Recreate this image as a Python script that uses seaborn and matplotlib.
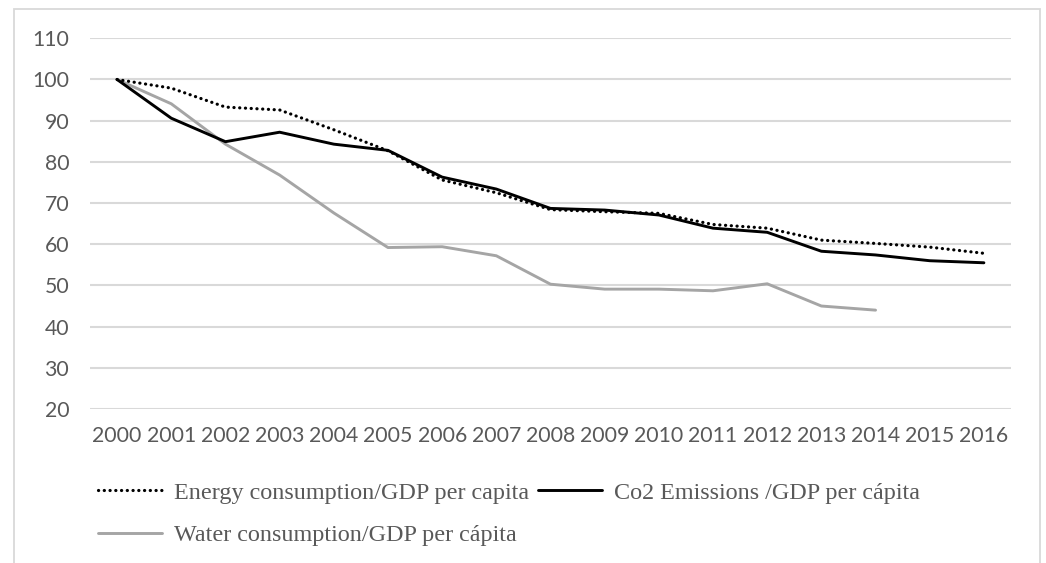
import matplotlib
matplotlib.use("Agg")
import matplotlib.pyplot as plt
from matplotlib.lines import Line2D
from matplotlib.patches import Rectangle
import numpy as np
import pandas as pd
import seaborn as sns

# Index values (2000 = 100)
years = [2000, 2001, 2002, 2003, 2004, 2005, 2006, 2007, 2008,
         2009, 2010, 2011, 2012, 2013, 2014, 2015, 2016]
energy = [100, 97.9, 93.3, 92.6, 87.8, 82.7, 75.6, 72.5, 68.4,
          67.9, 67.5, 64.8, 63.9, 61.0, 60.2, 59.3, 57.8]
co2 = [100, 90.6, 84.9, 87.2, 84.3, 82.8, 76.3, 73.4, 68.7,
       68.3, 67.1, 63.9, 62.9, 58.3, 57.4, 56.0, 55.5]
water = [100, 94.1, 84.3, 76.8, 67.6, 59.2, 59.4, 57.2, 50.3,
         49.1, 49.1, 48.7, 50.4, 45.0, 44.0]

labels = {
    "energy": "Energy consumption/GDP per capita",
    "co2": "Co2 Emissions /GDP per cápita",
    "water": "Water consumption/GDP per cápita",
}

sns.set_theme(style="white")
plt.rcParams["font.family"] = ["Lato", "DejaVu Sans"]

W, H = 1046, 563
fig = plt.figure(figsize=(W / 100, H / 100), dpi=100)
ax = fig.add_axes([90 / W, 1 - 409 / H, (1011 - 90) / W, (409 - 38.3) / H])

pos = np.arange(len(years))
df_energy = pd.DataFrame({"pos": pos, "value": energy})
df_co2 = pd.DataFrame({"pos": pos, "value": co2})
df_water = pd.DataFrame({"pos": pos[:len(water)], "value": water})

lw = 2.1
dot_lw = 2.3
dots = (0, (0.05, 1.75))
water_color = "#A5A5A5"
sns.lineplot(data=df_water, x="pos", y="value", ax=ax, color=water_color,
             lw=lw, solid_capstyle="round", solid_joinstyle="round")
sns.lineplot(data=df_co2, x="pos", y="value", ax=ax, color="black",
             lw=lw, solid_capstyle="round", solid_joinstyle="round")
sns.lineplot(data=df_energy, x="pos", y="value", ax=ax, color="black",
             lw=dot_lw, linestyle=dots, dash_capstyle="round")

ax.set_xlim(-0.5, len(years) - 0.5)
ax.set_ylim(20, 110)
ax.set_yticks(np.arange(20, 111, 10))
ax.set_xticks(pos)
ax.set_xticklabels([str(y) for y in years])
ax.set_xlabel("")
ax.set_ylabel("")

ax.grid(axis="y", color="#D9D9D9", lw=1.5)
ax.grid(axis="x", visible=False)
ax.set_axisbelow(True)
for s in ax.spines.values():
    s.set_visible(False)

ax.tick_params(axis="both", length=0, labelsize=15.3, colors="#595959")
ax.tick_params(axis="x", pad=12)
ax.tick_params(axis="y", pad=15)

# Chart area border
fig.patches.append(Rectangle((14 / W, -0.05), (1040 - 14) / W, 1 - 9 / H + 0.05,
                             transform=fig.transFigure, fill=False,
                             edgecolor="#D9D9D9", lw=1.3))

# Legend: two entries on the first row, one on the second
h_energy = Line2D([], [], color="black", lw=dot_lw, linestyle=dots,
                  dash_capstyle="round")
h_co2 = Line2D([], [], color="black", lw=lw)
h_water = Line2D([], [], color=water_color, lw=lw)
leg = fig.legend([h_energy, h_water, h_co2],
                 [labels["energy"], labels["water"], labels["co2"]],
                 loc="upper left", bbox_to_anchor=(98 / W, 1 - 482 / H),
                 ncol=2, frameon=False, borderpad=0, borderaxespad=0,
                 handlelength=2.65, handletextpad=0.5, columnspacing=0.35,
                 labelspacing=0.85,
                 prop={"family": "Liberation Serif", "size": 17.4})
for t in leg.get_texts():
    t.set_color("#595959")

fig.savefig("out.png", dpi=100, facecolor="white")
